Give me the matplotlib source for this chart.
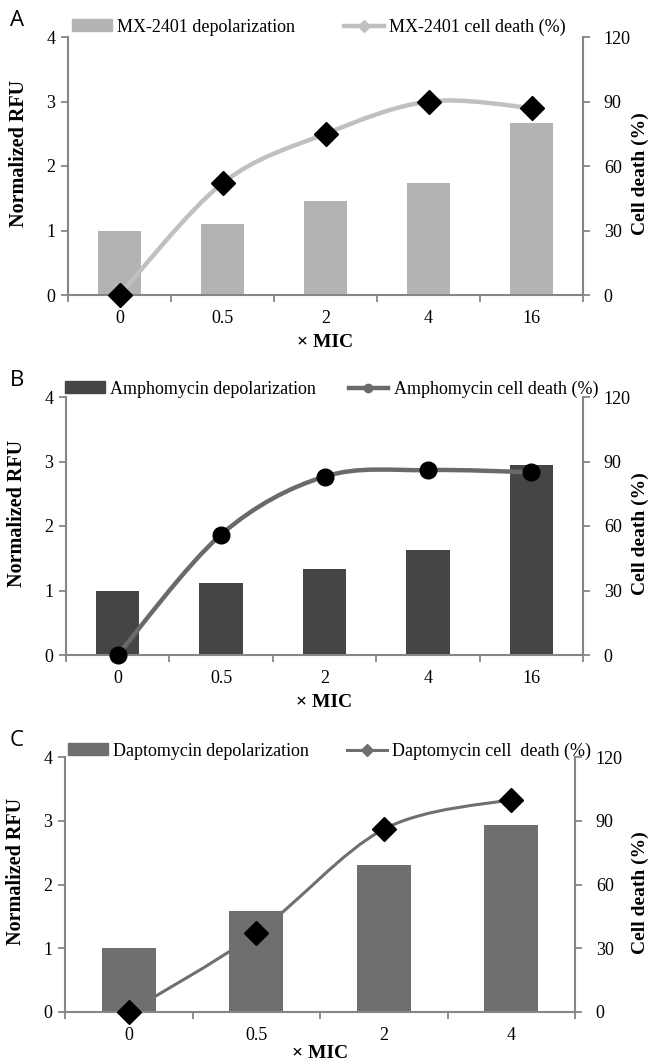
import numpy as np
import matplotlib.pyplot as plt
from matplotlib.path import Path
from matplotlib.patches import PathPatch, Patch
from matplotlib.lines import Line2D

plt.rcParams['font.family'] = ['Liberation Serif', 'DejaVu Serif']

# panel A - MX-2401
mic_a = ['0', '0.5', '2', '4', '16']
rfu_a = [1.0, 1.10, 1.45, 1.73, 2.66]
death_a = [0, 52, 75, 90, 87]

# panel B - Amphomycin
mic_b = ['0', '0.5', '2', '4', '16']
rfu_b = [1.0, 1.12, 1.33, 1.63, 2.94]
death_b = [0, 56, 83, 86, 85]

# panel C - Daptomycin
mic_c = ['0', '0.5', '2', '4']
rfu_c = [1.0, 1.59, 2.31, 2.94]
death_c = [0, 37, 86, 100]

W, H = 650, 1064
SPINE = '#868686'


def smooth_path(x, y):
    # excel-like smoothed line (catmull-rom as cubic beziers)
    pts = np.column_stack([x, y]).astype(float)
    n = len(pts)
    verts = [pts[0]]
    codes = [Path.MOVETO]
    for i in range(n - 1):
        p0 = pts[max(i - 1, 0)]
        p1 = pts[i]
        p2 = pts[i + 1]
        p3 = pts[min(i + 2, n - 1)]
        verts += [p1 + (p2 - p0) / 6, p2 - (p3 - p1) / 6, p2]
        codes += [Path.CURVE4] * 3
    return Path(verts, codes)


def panel(fig, box, letter, cats, rfu, death, bar_c, line_c, lw, marker,
          ms, names, leg_xy, col_gap, xlab_y=-0.15):
    l, t, r, b = box
    ax = fig.add_axes([l / W, 1 - b / H, (r - l) / W, (b - t) / H])
    n = len(cats)
    x = np.arange(n)
    ax.bar(x, rfu, width=0.42, color=bar_c, zorder=2)
    ax.set_xlim(-0.5, n - 0.5)
    ax.set_ylim(0, 4)
    ax.set_yticks(range(5))
    ax.set_xticks(np.arange(-0.5, n, 1))
    ax.set_xticklabels([])
    ax.set_xticks(x, minor=True)
    ax.set_xticklabels(cats, minor=True)
    ax.tick_params(axis='x', which='major', length=5, color=SPINE, width=1.3)
    ax.tick_params(axis='x', which='minor', length=0, pad=11, labelsize=13)
    ax.tick_params(axis='y', length=5, color=SPINE, width=1.3, pad=4,
                   labelsize=13)
    for s in ['top', 'right']:
        ax.spines[s].set_visible(False)
    for s in ['left', 'bottom']:
        ax.spines[s].set_color(SPINE)
        ax.spines[s].set_linewidth(1.5)
    ax.set_ylabel('Normalized RFU', fontsize=14.5, fontweight='bold')
    ax.yaxis.set_label_coords(-0.076, 0.55)
    ax.set_xlabel('× MIC', fontsize=14, fontweight='bold')
    ax.xaxis.set_label_coords(0.5, xlab_y)

    ax2 = ax.twinx()
    ax2.set_ylim(0, 120)
    ax2.set_yticks(range(0, 121, 30))
    ax2.tick_params(axis='y', length=5, color=SPINE, width=1.3, pad=10,
                    labelsize=13)
    for s in ['top', 'left', 'bottom']:
        ax2.spines[s].set_visible(False)
    ax2.spines['right'].set_color(SPINE)
    ax2.spines['right'].set_linewidth(1.5)
    ax2.add_patch(PathPatch(smooth_path(x, death), fill=False,
                            edgecolor=line_c, lw=lw, capstyle='round',
                            zorder=3))
    ax2.plot(x, death, ls='none', marker=marker, ms=ms, color='black',
             zorder=4, clip_on=False)
    ax2.set_ylabel('Cell death (%)', fontsize=14, fontweight='bold',
                   rotation=90)
    ax2.yaxis.set_label_coords((632 - l) / (r - l), 0.47)

    handles = [Patch(color=bar_c),
               Line2D([], [], color=line_c, lw=lw, marker=marker, ms=6)]
    fig.legend(handles, names, loc='center left',
               bbox_to_anchor=(leg_xy[0] / W, 1 - leg_xy[1] / H),
               ncol=2, frameon=False, fontsize=13, handlelength=2.2,
               handleheight=0.6, handletextpad=0.3, columnspacing=col_gap,
               borderaxespad=0, borderpad=0)
    fig.text(10 / W, 1 - (t - 16) / H, letter, family='Open Sans',
             fontsize=16, va='center')


fig = plt.figure(figsize=(W / 100, H / 100), dpi=100)

panel(fig, (68, 37, 583, 295), 'A', mic_a, rfu_a, death_a,
      '#b3b3b3', '#c0c0c0', 3.2, 'D', 12,
      ['MX-2401 depolarization', 'MX-2401 cell death (%)'], (72, 27), 2.7)
panel(fig, (66, 397, 583, 655), 'B', mic_b, rfu_b, death_b,
      '#454545', '#6a6a6a', 3.2, 'o', 12,
      ['Amphomycin depolarization', 'Amphomycin cell death (%)'],
      (65, 389), 1.8)
panel(fig, (65, 757, 575, 1012), 'C', mic_c, rfu_c, death_c,
      '#6f6f6f', '#6f6f6f', 2.2, 'D', 12,
      ['Daptomycin depolarization', 'Daptomycin cell  death (%)'],
      (68, 751), 2.1, xlab_y=-0.128)

fig.savefig('out.png', dpi=100)
